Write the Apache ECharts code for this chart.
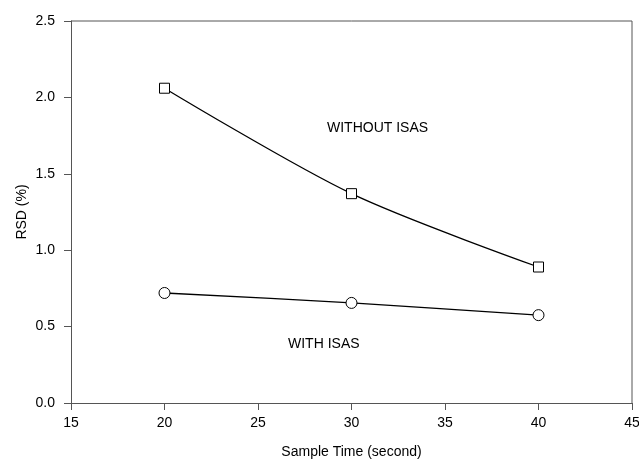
<!DOCTYPE html>
<html>
<head>
<meta charset="utf-8">
<script src="https://cdn.jsdelivr.net/npm/echarts@6/dist/echarts.min.js"></script>
<style>
  html, body { margin: 0; padding: 0; background: #fff; }
  #chart { width: 639px; height: 459px; }
</style>
</head>
<body>
<div id="chart"></div>
<script>
// sample times (s)
const sampleTime = [20, 30, 40]
// RSD (%) values
const withoutIsas = [2.06, 1.37, 0.89]
const withIsas = [0.72, 0.655, 0.575]

const chart = echarts.init(document.getElementById('chart'))
const font = 'Liberation Sans, Arial, sans-serif'

chart.setOption({
  animation: false,
  grid: { left: 71, right: 7, top: 21, bottom: 56, outerBoundsMode: 'none', containLabel: false },
  xAxis: {
    type: 'value',
    min: 15, max: 45, interval: 5,
    name: 'Sample Time (second)',
    nameLocation: 'middle',
    nameGap: 42,
    nameMoveOverlap: false,
    nameTextStyle: { color: '#000', fontSize: 14, fontFamily: font },
    axisLine: { onZero: false, lineStyle: { color: '#555', width: 1 } },
    axisTick: { length: 7, lineStyle: { color: '#555' } },
    axisLabel: { color: '#000', fontSize: 14, fontFamily: font, margin: 13 },
    splitLine: { show: false }
  },
  yAxis: {
    type: 'value',
    min: 0, max: 2.5, interval: 0.5,
    name: 'RSD (%)',
    nameLocation: 'middle',
    nameGap: 42,
    nameMoveOverlap: false,
    nameTextStyle: { color: '#000', fontSize: 14, fontFamily: font },
    axisLine: { lineStyle: { color: '#555', width: 1 } },
    axisTick: { show: true, length: 7, lineStyle: { color: '#555' } },
    axisLabel: { color: '#000', fontSize: 14, fontFamily: font, margin: 16,
      formatter: v => v.toFixed(1) },
    splitLine: { show: false }
  },
  graphic: [
    // top and right frame lines
    { type: 'line', shape: { x1: 71, y1: 21, x2: 632, y2: 21 }, style: { stroke: '#555', lineWidth: 1 } },
    { type: 'line', shape: { x1: 632, y1: 21, x2: 632, y2: 403 }, style: { stroke: '#555', lineWidth: 1 } },
    { type: 'text', left: 327, top: 121, style: { text: 'WITHOUT ISAS', fill: '#000', font: '14px ' + font } },
    { type: 'text', left: 288, top: 337, style: { text: 'WITH ISAS', fill: '#000', font: '14px ' + font } }
  ],
  series: [
    {
      name: 'WITHOUT ISAS',
      type: 'line',
      data: sampleTime.map((t, i) => [t, withoutIsas[i]]),
      smooth: 0.3,
      symbol: 'rect',
      symbolSize: 10,
      lineStyle: { color: '#000', width: 1.3 },
      itemStyle: { color: '#fff', borderColor: '#000', borderWidth: 1 }
    },
    {
      name: 'WITH ISAS',
      type: 'line',
      data: sampleTime.map((t, i) => [t, withIsas[i]]),
      smooth: 0.3,
      symbol: 'circle',
      symbolSize: 11,
      lineStyle: { color: '#000', width: 1.3 },
      itemStyle: { color: '#fff', borderColor: '#000', borderWidth: 1 }
    }
  ]
})
</script>
</body>
</html>
